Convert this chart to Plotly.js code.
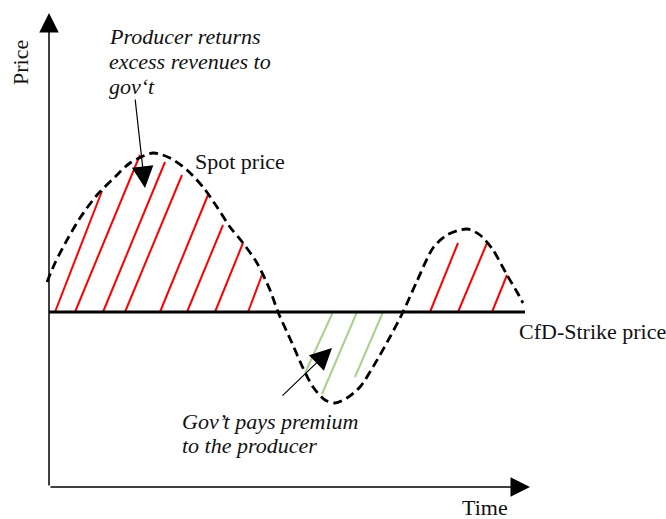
<!DOCTYPE html>
<html>
<head>
<meta charset="utf-8">
<script src="https://cdn.plot.ly/plotly-3.0.1.min.js"></script>
<style>html,body{margin:0;padding:0;background:#fff;}#chart{width:666px;height:519px;}</style>
</head>
<body>
<div id="chart"></div>
<script>
// Spot price curve (time, price) in schematic units
var spotTime  = [-0.2,0.6,1.8,3.1,4.8,6.6,8.1,10.4,12.1,13.8,15.4,16.8,18.1,19.4,20.8,22.1,22.9,24.3,25.4,26.4,27.6,28.6,29.8,31.1,32.4,34.1,35.4,36.8,38.4,39.8,41.8,43.1,44.4,45.8,46.8,47.4];
var spotPrice = [20.5,22.4,24.7,26.9,29.2,31.0,32.4,33.4,32.9,31.7,30.0,28.0,26.0,24.4,22.4,19.7,17.5,14.4,11.9,10.0,8.7,8.4,8.9,10.0,12.0,15.0,17.5,20.6,23.9,25.2,25.8,25.2,23.7,21.2,19.5,18.4];

// CfD strike price level
var strikePrice = 17.5;
var strikeTime = [0, 47.6];

// Red hatch lines (excess revenues): start on strike line, end near curve
var redStartTime = [0.6,2.6,5.4,7.6,11.1,13.8,16.6,19.9,38.1,40.9,44.3];
var redEndTime   = [5.3,9.1,11.6,13.3,15.9,17.4,19.4,21.3,40.9,43.8,45.8];
var redEndPrice  = [29.6,33.2,32.5,31.2,29.2,26.2,24.4,21.2,24.4,24.4,21.2];

// Green hatch lines (premium): start on strike line, end near curve
var greenStartTime = [28.4,30.8,33.4];
var greenEndTime   = [25.6,27.3,30.6];
var greenEndPrice  = [11.4,9.3,11.0];

// Axis extents
var timeAxisEnd = 48.1;
var priceAxisEnd = 47.4;

// Texts
var calloutTop = ["Producer returns", "excess revenues to", "gov\u2018t"];
var calloutBottom = ["Gov\u2019t pays premium", "to the producer"];
var spotLabel = "Spot price";
var strikeLabel = "CfD-Strike price";
var xLabel = "Time";
var yLabel = "Price";

function hatch(t0, p0, t1, p1) {
  var xs = [], ys = [];
  for (var i = 0; i < t0.length; i++) {
    xs.push(t0[i], t1[i], null);
    ys.push(p0, p1[i], null);
  }
  return {x: xs, y: ys};
}

var red = hatch(redStartTime, strikePrice, redEndTime, redEndPrice);
var green = hatch(greenStartTime, strikePrice, greenEndTime, greenEndPrice);

var traces = [
  {x: red.x, y: red.y, mode: 'lines', line: {color: '#ff0000', width: 2}, hoverinfo: 'skip', connectgaps: false},
  {x: green.x, y: green.y, mode: 'lines', line: {color: '#a9d18e', width: 2}, hoverinfo: 'skip', connectgaps: false},
  {x: strikeTime, y: [strikePrice, strikePrice], mode: 'lines', line: {color: '#000', width: 3}, hoverinfo: 'skip'},
  {x: spotTime, y: spotPrice, mode: 'lines', line: {color: '#000', width: 2.8, dash: '9px,5px', shape: 'spline', smoothing: 0.8}, hoverinfo: 'skip'}
];

var font = {family: 'Liberation Serif, Times New Roman, serif', size: 22, color: '#111'};
var ifont = {family: 'Liberation Serif, Times New Roman, serif', size: 22, color: '#111', style: 'italic'};

function arrow(tx, ty, hx, hy, w, s) {
  return {x: hx, y: hy, ax: tx, ay: ty, xref: 'x', yref: 'y', axref: 'x', ayref: 'y',
    text: '', showarrow: true, arrowhead: 2, arrowsize: s, arrowwidth: w, arrowcolor: '#000', standoff: 0, startstandoff: 0};
}
function label(t, x, y, f, extra) {
  var a = {x: x, y: y, xref: 'x', yref: 'y', text: t, showarrow: false, xanchor: 'left', yanchor: 'middle', font: f};
  if (extra) for (var k in extra) a[k] = extra[k];
  return a;
}

var ann = [
  arrow(0, 0, 0, priceAxisEnd, 1.5, 2.6),
  arrow(0, 0, timeAxisEnd, 0, 1.5, 2.6),
  arrow(8.6, 38.9, 9.6, 29.9, 1.2, 3.6),
  arrow(23.2, 9.0, 28.3, 13.9, 1.2, 3.6),
  label(calloutTop[0], 5.8, 45.1, ifont),
  label(calloutTop[1], 5.8, 42.6, ifont),
  label(calloutTop[2], 5.8, 40.1, ifont),
  label(calloutBottom[0], 13.1, 6.6, ifont),
  label(calloutBottom[1], 13.1, 4.2, ifont),
  label(spotLabel, 14.4, 32.6, font),
  label(strikeLabel, 46.8, 15.6, font),
  label(xLabel, 43.6, -2.05, font, {xanchor: 'center'}),
  label(yLabel, -2.9, 42.4, font, {xanchor: 'center', textangle: -90})
];

var layout = {
  width: 666, height: 519,
  margin: {l: 0, r: 0, t: 0, b: 0},
  paper_bgcolor: '#fff', plot_bgcolor: '#fff',
  showlegend: false,
  xaxis: {range: [-4.9, 61.7], visible: false, fixedrange: true},
  yaxis: {range: [-3.2, 48.7], visible: false, fixedrange: true},
  annotations: ann
};

Plotly.newPlot('chart', traces, layout, {displayModeBar: false, staticPlot: true});
</script>
</body>
</html>
